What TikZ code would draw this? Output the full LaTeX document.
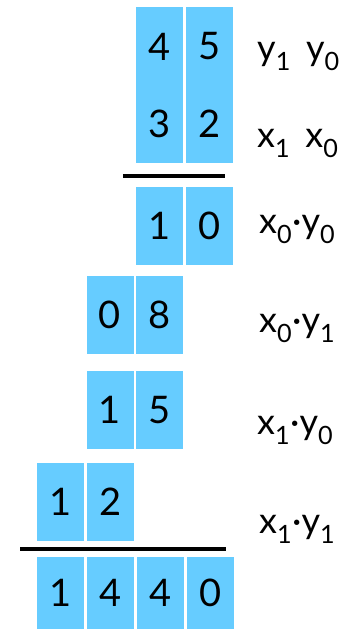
\documentclass[tikz,border=0pt]{standalone}
\usepackage{fontspec}
\setmainfont{Lato}
\usepackage{xcolor}
\usepackage{tikz}
\usetikzlibrary{positioning, calc}
\definecolor{celeste}{HTML}{66CCFF}
\tikzset{
  cell/.style={fill=celeste, minimum width=47pt, minimum height=78pt, inner sep=0pt,
    font=\fontsize{38}{44}\selectfont},
  tallcell/.style={cell, minimum height=156pt},
  digit/.style={inner sep=0pt, font=\fontsize{38}{44}\selectfont},
  lbl/.style={anchor=base west, inner sep=0pt, font=\fontsize{36}{42}\selectfont},
  sumline/.style={line width=3.5pt},
}

\begin{document}
\begin{tikzpicture}[x=1pt, y=1pt, node distance=2.5pt]
    \useasboundingbox (0,0) rectangle (354,629);
    % the two factors, one column per digit
    \node[tallcell] (f1) at (159.5,544) {};
    \node[tallcell, right=of f1] (f0) {};
    \node[digit] (y1) at ($(f1.center)+(0,38.5)$) {4};
    \node[digit] (y0) at ($(f0.center)+(0,38.5)$) {5};
    \node[digit] (x1) at ($(f1.center)+(0,-39)$) {3};
    \node[digit] (x0) at ($(f0.center)+(0,-39)$) {2};
    \draw[sumline] ($(f1.south west)+(-13,-13)$) -- ($(f0.south east)+(-8.5,-13)$);
    % partial products
    \node[cell] (p00a) at (159.5,403) {1};
    \node[cell, right=of p00a] (p00b) {0};
    \node[cell] (p01a) at (110,314) {0};
    \node[cell, right=of p01a] (p01b) {8};
    \node[cell] (p10a) at (110,219) {1};
    \node[cell, right=of p10a] (p10b) {5};
    \node[cell] (p11a) at (60.5,127) {1};
    \node[cell, right=of p11a] (p11b) {2};
    \draw[sumline] ($(p11a.south west)+(-16.5,-8)$) -- ($(p00b.east|-p11a.south)+(-7.5,-8)$);
    % result
    \node[cell, minimum height=72pt] (r3) at (60.5,36) {1};
    \node[cell, minimum height=72pt, right=of r3] (r2) {4};
    \node[cell, minimum height=72pt, right=of r2] (r1) {4};
    \node[cell, minimum height=72pt, right=of r1] (r0) {0};
    % labels
    \node[lbl] (ly) at (257,568) {y\textsubscript{1}\, y\textsubscript{0}};
    \node[lbl] (lx) at (257,481) {x\textsubscript{1}\, x\textsubscript{0}};
    \node[lbl] (l00) at (259,395) {x\textsubscript{0}·y\textsubscript{0}};
    \node[lbl] (l01) at (259,296) {x\textsubscript{0}·y\textsubscript{1}};
    \node[lbl] (l10) at (257,194) {x\textsubscript{1}·y\textsubscript{0}};
    \node[lbl] (l11) at (259,95) {x\textsubscript{1}·y\textsubscript{1}};
\end{tikzpicture}
\end{document}
